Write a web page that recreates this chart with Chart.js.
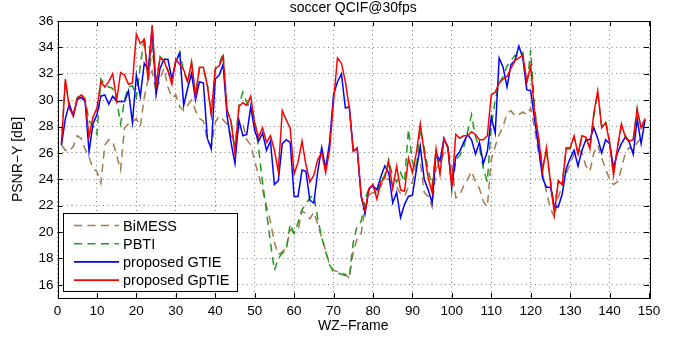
<!DOCTYPE html>
<html lang="en">
<head>
<meta charset="UTF-8">
<title>soccer QCIF@30fps</title>
<script src="https://cdn.jsdelivr.net/npm/chart.js"></script>
<style>
  html, body { margin: 0; padding: 0; background: #fff; }
</style>
</head>
<body>
<canvas id="psnrChart" width="688" height="341"></canvas>
<script>
// WZ frame index 1..149
const frames = [
  1,2,3,4,5,6,7,8,9,10,11,12,13,14,15,16,17,18,19,20,21,22,23,24,25,26,27,28,29,30,
  31,32,33,34,35,36,37,38,39,40,41,42,43,44,45,46,47,48,49,50,51,52,53,54,55,56,57,58,59,60,
  61,62,63,64,65,66,67,68,69,70,71,72,73,74,75,76,77,78,79,80,81,82,83,84,85,86,87,88,89,90,
  91,92,93,94,95,96,97,98,99,100,101,102,103,104,105,106,107,108,109,110,111,112,113,114,115,116,117,118,119,120,
  121,122,123,124,125,126,127,128,129,130,131,132,133,134,135,136,137,138,139,140,141,142,143,144,145,146,147,148,149
];
const xTicks = [0,10,20,30,40,50,60,70,80,90,100,110,120,130,140,150];
const yTicks = [16,18,20,22,24,26,28,30,32,34,36];

const bimess = [
  26.6,26.2,26.1,26.5,27.3,27.1,26.3,25.7,24.8,24.6,23.7,26.6,27.0,26.9,25.8,24.7,27.9,28.2,28.3,28.6,
  28.0,30.2,31.6,32.2,30.6,31.6,32.4,31.0,30.2,30.4,29.5,29.2,29.6,30.0,29.2,28.6,28.4,27.0,26.5,28.3,
  28.8,28.5,28.2,27.3,26.6,27.9,28.2,27.0,26.6,25.4,24.3,23.2,22.0,20.8,19.2,18.3,18.5,18.8,20.2,20.0,
  20.1,21.6,21.4,21.0,21.5,20.6,19.6,18.6,17.5,17.1,17.0,16.9,16.8,16.5,18.5,19.5,19.9,21.8,22.8,23.0,
  22.9,23.5,24.0,24.0,23.6,23.4,22.9,22.7,23.4,23.8,25.2,25.3,23.0,22.7,21.9,24.8,25.3,26.0,26.2,25.0,
  22.6,22.8,23.5,24.0,24.6,23.8,23.3,22.3,21.9,25.5,26.5,27.4,28.0,29.0,29.2,28.8,28.9,29.1,28.9,29.4,
  27.8,26.0,24.5,23.0,21.8,21.1,22.6,23.6,24.4,25.2,25.9,26.3,26.0,25.0,24.6,26.0,26.6,25.6,24.8,24.0,
  23.6,23.8,24.8,26.0,26.4,26.2,26.8,27.1,27.2
];
const pbti = [
  26.7,31.4,29.6,28.9,30.2,30.5,30.1,28.4,28.0,27.4,31.6,31.2,31.0,30.9,30.0,28.2,30.0,31.0,31.1,30.2,
  32.6,34.8,31.5,34.0,31.3,33.3,33.0,32.3,31.4,33.0,33.6,32.2,31.3,32.8,30.4,32.4,32.4,31.2,29.0,32.3,
  32.7,33.6,29.3,28.4,26.2,29.6,30.6,29.8,29.4,28.6,26.3,23.8,21.5,19.2,17.1,18.0,18.4,18.6,20.6,19.9,
  20.7,21.7,22.1,22.6,22.8,21.0,19.6,18.5,17.5,17.0,16.9,16.8,16.7,16.6,19.2,20.5,20.8,22.5,23.3,23.5,
  22.8,23.9,24.3,25.5,24.2,23.8,24.5,23.8,27.8,25.3,24.8,27.8,26.4,24.7,23.5,26.2,24.6,27.0,26.5,23.1,
  25.5,25.8,26.4,27.6,28.9,27.2,26.4,24.8,23.8,28.0,30.0,31.3,31.8,32.6,33.0,33.4,33.3,33.6,31.0,33.8,
  29.4,27.0,25.0,26.0,24.0,21.8,23.8,23.7,26.3,26.3,27.2,26.0,27.2,27.1,26.4,28.8,30.6,28.0,28.4,26.9,
  24.4,26.4,28.0,27.3,26.9,27.0,29.4,27.8,28.6
];
const gtie = [
  26.6,28.6,29.7,28.8,30.05,30.2,29.9,26.1,28.2,28.9,30.3,30.4,29.7,30.3,29.9,29.9,29.9,30.7,28.3,31.9,
  30.3,32.8,32.3,35.5,30.4,32.4,33.1,33.1,31.6,32.9,33.6,29.6,30.9,32.0,30.0,31.4,31.3,27.1,26.3,31.6,
  31.9,32.7,28.8,26.8,25.2,28.5,27.3,27.4,29.5,27.7,26.9,27.5,26.2,26.9,23.6,23.9,26.7,27.0,26.8,22.7,
  22.7,24.7,24.6,22.4,22.2,24.6,26.4,24.8,26.8,30.4,31.4,32.0,29.4,29.5,26.2,26.3,22.7,21.4,23.3,23.5,
  23.2,24.2,25.0,24.5,22.2,23.0,21.1,22.1,22.7,22.8,24.7,26.5,24.0,23.2,22.2,26.0,25.4,27.1,26.4,23.5,
  25.7,26.1,26.8,27.4,27.0,25.9,26.8,25.2,26.1,28.7,27.5,33.2,32.5,31.0,32.7,33.0,34.1,33.2,30.8,30.7,
  28.5,26.4,24.1,23.4,23.4,21.9,21.9,22.9,24.8,25.6,26.2,25.0,26.2,27.0,27.0,27.9,27.1,26.0,27.0,26.7,
  24.9,26.0,26.7,27.2,26.8,25.9,28.6,26.7,28.5
];
const gptie = [
  26.7,31.6,29.4,28.8,30.1,30.4,30.0,27.2,28.7,29.4,31.4,31.0,31.4,32.0,30.0,32.1,31.9,31.2,31.3,35.0,
  34.3,34.6,31.5,35.7,31.1,33.2,33.0,32.2,31.2,33.1,32.7,32.3,31.4,32.9,30.3,32.5,32.5,31.1,28.9,32.4,
  32.6,33.3,29.2,28.4,26.0,29.5,29.8,29.6,30.3,28.2,27.2,27.9,26.8,27.3,26.2,24.6,29.2,28.5,27.9,24.4,
  25.3,26.9,25.1,23.8,24.3,25.5,26.0,24.5,26.2,29.9,33.2,32.8,31.4,29.4,26.1,26.4,22.8,21.6,23.3,23.6,
  22.5,23.8,24.1,25.3,23.3,25.0,23.2,23.1,25.6,24.5,26.0,28.2,26.0,24.1,23.0,26.3,24.4,27.1,26.4,23.4,
  27.4,27.1,27.3,27.3,27.6,27.4,27.0,27.0,27.3,30.4,30.6,31.3,31.6,31.8,32.4,33.0,33.2,33.4,31.4,32.6,
  29.0,27.2,24.6,26.4,23.8,21.4,23.9,23.6,26.4,26.4,27.3,25.9,27.3,27.2,26.3,29.0,30.7,27.9,28.3,26.8,
  24.3,26.4,28.2,27.2,26.9,27.0,29.3,27.9,28.6
];

const FONT = "'Liberation Sans', Arial, Helvetica, sans-serif";
const pts = vals => frames.map((f, i) => ({ x: f, y: vals[i] }));

const series = [
  { label: 'BiMESS', data: bimess, color: '#a47a4e', dash: [8, 5.5], order: 3 },
  { label: 'PBTI', data: pbti, color: '#1f9a1f', dash: [8, 5.5], order: 2 },
  { label: 'proposed GTIE', data: gtie, color: '#0000ff', dash: [], order: 1 },
  { label: 'proposed GpTIE', data: gptie, color: '#ff0000', dash: [], order: 0 }
];

// matlab style box, inward ticks and the legend inside the axes
const axesBox = {
  id: 'axesBox',
  afterDraw(chart) {
    const { ctx, chartArea: a, scales: { x, y } } = chart;
    ctx.save();
    ctx.strokeStyle = '#000';
    ctx.lineWidth = 1;
    ctx.setLineDash([]);
    ctx.beginPath();
    xTicks.forEach(v => {
      const px = Math.round(x.getPixelForValue(v)) + 0.5;
      ctx.moveTo(px, a.bottom); ctx.lineTo(px, a.bottom - 5);
      ctx.moveTo(px, a.top); ctx.lineTo(px, a.top + 5);
    });
    yTicks.forEach(v => {
      const py = Math.round(y.getPixelForValue(v)) + 0.5;
      ctx.moveTo(a.left, py); ctx.lineTo(a.left + 5, py);
      ctx.moveTo(a.right, py); ctx.lineTo(a.right - 5, py);
    });
    ctx.stroke();
    ctx.strokeRect(Math.round(a.left) + 0.5, Math.round(a.top) + 0.5,
      Math.round(a.right - a.left), Math.round(a.bottom - a.top));

    // legend
    const bx = 63.5, by = 213.5, bw = 174, bh = 78;
    ctx.fillStyle = '#fff';
    ctx.fillRect(bx, by, bw, bh);
    ctx.strokeRect(bx, by, bw, bh);
    ctx.font = '14.5px ' + FONT;
    ctx.textBaseline = 'middle';
    series.forEach((s, i) => {
      const ly = 225.5 + i * 18.2;
      ctx.beginPath();
      ctx.strokeStyle = s.color;
      ctx.lineWidth = 1.6;
      ctx.setLineDash(s.dash);
      ctx.moveTo(74, ly); ctx.lineTo(119, ly);
      ctx.stroke();
      ctx.setLineDash([]);
      ctx.fillStyle = '#000';
      ctx.fillText(s.label, 123, ly + 1);
    });
    ctx.restore();
  }
};

const ctx = document.getElementById('psnrChart').getContext('2d');
new Chart(ctx, {
  type: 'line',
  data: {
    datasets: series.map(s => ({
      label: s.label,
      data: pts(s.data),
      borderColor: s.color,
      borderWidth: 1.5,
      borderDash: s.dash,
      pointRadius: 0,
      tension: 0,
      fill: false,
      order: s.order
    }))
  },
  options: {
    responsive: false,
    animation: false,
    devicePixelRatio: 1,
    layout: { padding: { left: 0, right: 39, top: 0, bottom: 0 } },
    plugins: {
      legend: { display: false },
      tooltip: { enabled: false },
      title: {
        display: true,
        text: 'soccer QCIF@30fps',
        color: '#000',
        fullSize: false,
        font: { family: FONT, size: 14, weight: 'normal' },
        padding: { top: 0, bottom: 4.2 }
      }
    },
    scales: {
      x: {
        type: 'linear',
        min: 0,
        max: 150,
        afterBuildTicks: s => { s.ticks = xTicks.map(v => ({ value: v })); },
        afterFit: s => { s.height = 43; },
        ticks: { color: '#000', font: { family: FONT, size: 13.5 }, padding: 5, maxRotation: 0, autoSkip: false },
        grid: { color: 'rgba(0,0,0,0.5)', lineWidth: 1, drawTicks: false },
        border: { display: false, dash: [1, 3.5] },
        title: { display: true, text: 'WZ\u2212Frame', color: '#000', font: { family: FONT, size: 14 }, padding: { top: 0, bottom: 6 } }
      },
      y: {
        min: 15,
        max: 36,
        afterBuildTicks: s => { s.ticks = yTicks.map(v => ({ value: v })); },
        afterFit: s => { s.width = 57.5; },
        ticks: { color: '#000', font: { family: FONT, size: 13.5 }, padding: 4, autoSkip: false },
        grid: { color: 'rgba(0,0,0,0.5)', lineWidth: 1, drawTicks: false },
        border: { display: false, dash: [1, 3.5] },
        title: { display: true, text: 'PSNR\u2212Y [dB]', color: '#000', font: { family: FONT, size: 14 }, padding: { top: 10, bottom: 0 } }
      }
    }
  },
  plugins: [axesBox]
});
</script>
</body>
</html>
